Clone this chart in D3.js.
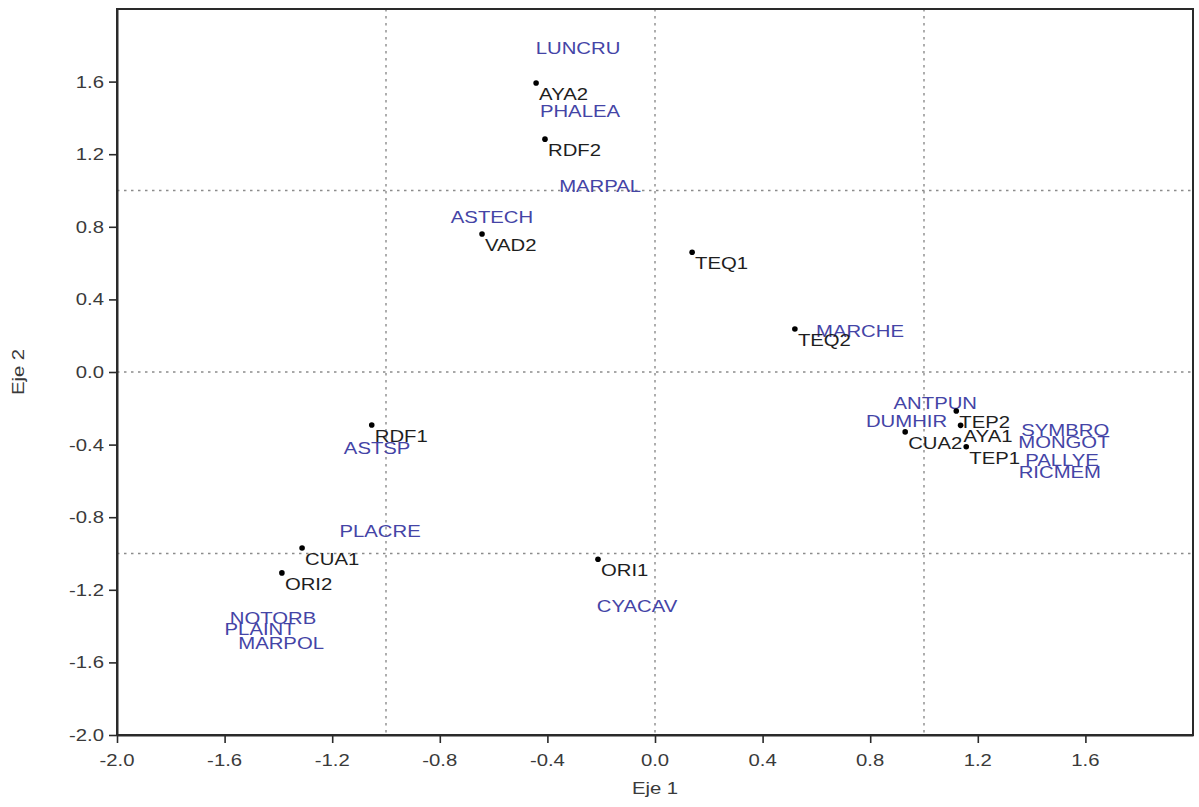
<!DOCTYPE html>
<html>
<head>
<meta charset="utf-8">
<script src="https://cdn.jsdelivr.net/npm/d3@7"></script>
<style>
  html, body { margin: 0; padding: 0; background: #fff; }
  svg { display: block; }
  text { font-family: "Liberation Sans", Arial, Helvetica, sans-serif; }
</style>
</head>
<body>
<svg id="chart" width="1199" height="807"></svg>
<script>
// Sampling sites (scores on axes 1 and 2)
const siteNames = ["AYA2", "RDF2", "VAD2", "TEQ1", "TEQ2", "TEP2", "AYA1", "CUA2", "TEP1", "RDF1", "CUA1", "ORI2", "ORI1"];
const siteX = [-0.442, -0.409, -0.643, 0.138, 0.520, 1.120, 1.136, 0.930, 1.157, -1.053, -1.312, -1.387, -0.212];
const siteY = [1.592, 1.283, 0.760, 0.660, 0.237, -0.215, -0.294, -0.330, -0.412, -0.292, -0.970, -1.107, -1.032];

// Species scores
const speciesNames = ["LUNCRU", "PHALEA", "MARPAL", "ASTECH", "MARCHE", "ANTPUN", "DUMHIR", "SYMBRO", "MONGOT", "PALLYE", "RICMEM", "ASTSP", "PLACRE", "CYACAV", "NOTORB", "PLAINT", "MARPOL"];
const speciesX = [-0.286, -0.279, -0.204, -0.606, 0.762, 1.042, 0.935, 1.525, 1.520, 1.513, 1.505, -1.033, -1.022, -0.067, -1.420, -1.468, -1.390];
const speciesY = [1.783, 1.438, 1.021, 0.854, 0.223, -0.170, -0.273, -0.320, -0.386, -0.485, -0.551, -0.419, -0.876, -1.289, -1.358, -1.416, -1.496];

// Axis ticks
const xTicks = [-2.0, -1.6, -1.2, -0.8, -0.4, 0.0, 0.4, 0.8, 1.2, 1.6];
const xTickLabels = ["-2.0", "-1.6", "-1.2", "-0.8", "-0.4", "0.0", "0.4", "0.8", "1.2", "1.6"];
const yTicks = [-2.0, -1.6, -1.2, -0.8, -0.4, 0.0, 0.4, 0.8, 1.2, 1.6];
const yTickLabels = ["-2.0", "-1.6", "-1.2", "-0.8", "-0.4", "0.0", "0.4", "0.8", "1.2", "1.6"];

// Dotted reference lines
const refX = [-1, 0, 1];
const refY = [-1, 0, 1];

const svg = d3.select("#chart");
const plotLeft = 117, plotRight = 1193, plotTop = 9, plotBottom = 735;
const x = d3.scaleLinear().domain([-2, 2]).range([plotLeft, plotRight]);
const y = d3.scaleLinear().domain([-2, 2]).range([plotBottom, plotTop]);

const SX = 1.27;   // horizontal stretch of all lettering
const FS = 16;
const siteColor = "#1e1e1e";
const speciesColor = "#4444a6";

function label(g, px, py, str, opts) {
  const t = g.append("text")
    .attr("transform", `translate(${px},${py}) scale(${SX},1)`)
    .attr("font-size", opts.size || FS)
    .attr("fill", opts.fill || "#333")
    .attr("text-anchor", opts.anchor || "start")
    .text(str);
  if (opts.dy) t.attr("dy", opts.dy);
  return t;
}

// reference lines
const ref = svg.append("g").attr("stroke", "#8c8c8c").attr("stroke-width", 1.4).attr("stroke-dasharray", "2.5,4.5");
ref.selectAll("line.vx").data(refX).join("line")
  .attr("x1", d => x(d)).attr("x2", d => x(d)).attr("y1", plotTop).attr("y2", plotBottom);
ref.selectAll("line.hy").data(refY).join("line")
  .attr("y1", d => y(d)).attr("y2", d => y(d)).attr("x1", plotLeft).attr("x2", plotRight);

// frame
svg.append("rect")
  .attr("x", plotLeft).attr("y", plotTop).attr("width", plotRight - plotLeft).attr("height", plotBottom - plotTop)
  .attr("fill", "none").attr("stroke", "#2a2a2a").attr("stroke-width", 2);

// axes
const xAxis = d3.axisBottom(x).tickValues(xTicks).tickSize(8).tickSizeOuter(0).tickFormat(() => "");
const yAxis = d3.axisLeft(y).tickValues(yTicks).tickSize(8).tickSizeOuter(0).tickFormat(() => "");
const gx = svg.append("g").attr("transform", `translate(0,${plotBottom})`).call(xAxis);
const gy = svg.append("g").attr("transform", `translate(${plotLeft},0)`).call(yAxis);
[gx, gy].forEach(g => {
  g.select(".domain").attr("stroke", "#2a2a2a").attr("stroke-width", 2);
  g.selectAll(".tick line").attr("stroke", "#2a2a2a").attr("stroke-width", 1.6);
});

const tl = svg.append("g");
xTicks.forEach((v, i) => label(tl, x(v), 766, xTickLabels[i], { anchor: "middle", fill: "#3a3a3a" }));
yTicks.forEach((v, i) => label(tl, 104, y(v) + 6, yTickLabels[i], { anchor: "end", fill: "#3a3a3a" }));

// axis titles
label(svg, x(0), 794, "Eje 1", { anchor: "middle", fill: "#3a3a3a" });
svg.append("text")
  .attr("transform", `translate(24,${y(0)}) rotate(-90) scale(${SX},1)`)
  .attr("text-anchor", "middle").attr("font-size", FS).attr("fill", "#3a3a3a")
  .text("Eje 2");

// species labels
const sp = svg.append("g");
speciesNames.forEach((n, i) =>
  label(sp, x(speciesX[i]), y(speciesY[i]), n, { anchor: "middle", fill: speciesColor, dy: "0.36em" }));

// sites: dot plus label
const st = svg.append("g");
st.selectAll("circle").data(siteNames).join("circle")
  .attr("cx", (d, i) => x(siteX[i])).attr("cy", (d, i) => y(siteY[i]))
  .attr("r", 2.8).attr("fill", "#000");
siteNames.forEach((n, i) =>
  label(st, x(siteX[i]) + 3, y(siteY[i]) + 17, n, { fill: siteColor }));
</script>
</body>
</html>
